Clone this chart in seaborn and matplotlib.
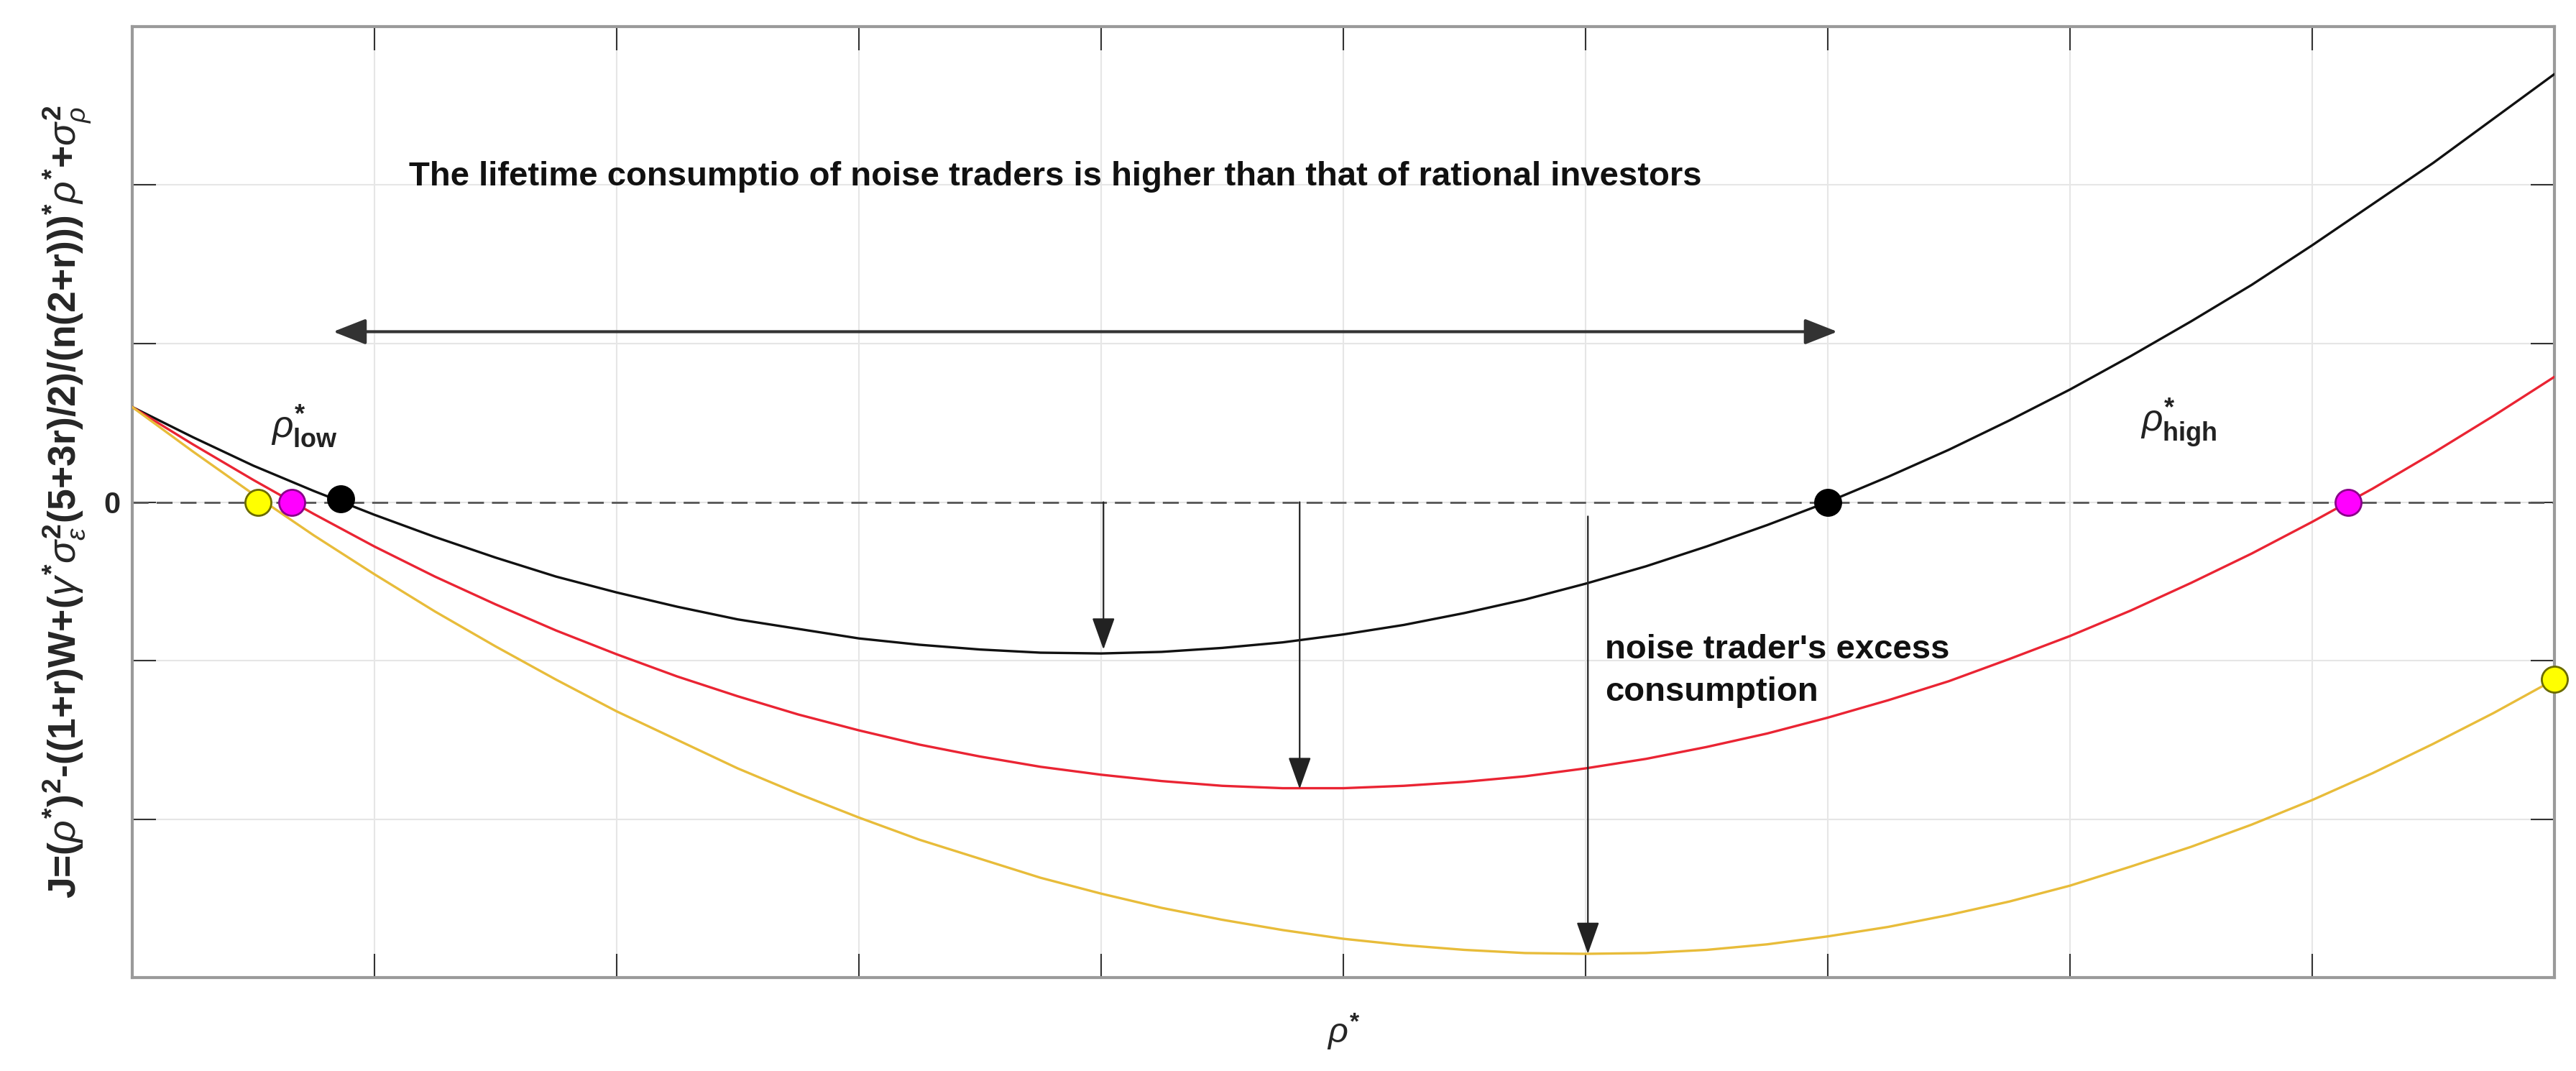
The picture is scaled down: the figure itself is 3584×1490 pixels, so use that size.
import matplotlib
matplotlib.use('Agg')
import matplotlib.pyplot as plt
import seaborn as sns

# curves (x and y in grid units, x 0..10, y -3..3)
curve_x = [0, 0.25, 0.5, 0.75, 1.0, 1.25, 1.5, 1.75, 2.0, 2.25, 2.5, 2.75, 3.0, 3.25, 3.5, 3.75, 4.0,
           4.25, 4.5, 4.75, 5.0, 5.25, 5.5, 5.75, 6.0, 6.25, 6.5, 6.75, 7.0, 7.25, 7.5, 7.75, 8.0,
           8.25, 8.5, 8.75, 9.0, 9.25, 9.5, 9.75, 10]
black_y = [0.60, 0.41, 0.23, 0.07, -0.08, -0.22, -0.35, -0.47, -0.57, -0.66, -0.74, -0.80, -0.86, -0.90,
           -0.93, -0.95, -0.955, -0.945, -0.92, -0.885, -0.835, -0.775, -0.70, -0.615, -0.515, -0.405,
           -0.28, -0.145, 0.0, 0.16, 0.33, 0.515, 0.71, 0.92, 1.14, 1.37, 1.62, 1.88, 2.14, 2.42, 2.70]
red_y = [0.60, 0.365, 0.14, -0.075, -0.28, -0.47, -0.645, -0.81, -0.96, -1.10, -1.225, -1.34, -1.44,
         -1.53, -1.605, -1.67, -1.72, -1.76, -1.79, -1.805, -1.805, -1.79, -1.765, -1.73, -1.68, -1.62,
         -1.545, -1.46, -1.36, -1.25, -1.13, -0.99, -0.845, -0.685, -0.51, -0.325, -0.125, 0.085, 0.31,
         0.545, 0.79]
yellow_y = [0.60, 0.32, 0.05, -0.21, -0.455, -0.69, -0.91, -1.12, -1.32, -1.50, -1.68, -1.84, -1.99,
            -2.13, -2.25, -2.37, -2.47, -2.56, -2.635, -2.70, -2.755, -2.795, -2.825, -2.845, -2.85,
            -2.845, -2.825, -2.79, -2.74, -2.68, -2.605, -2.52, -2.42, -2.30, -2.175, -2.035, -1.88,
            -1.71, -1.525, -1.33, -1.12]

# marked roots / end points
black_pts_x = [0.86, 7.0]
black_pts_y = [0.02, 0.0]
magenta_pts_x = [0.66, 9.15]
magenta_pts_y = [0.0, 0.0]
yellow_pts_x = [0.52, 10.0]
yellow_pts_y = [0.0, -1.12]

# annotation arrows
drop_x = [4.01, 4.82, 6.01]
drop_top = [0.0, 0.0, -0.09]
drop_bottom = [-0.93, -1.81, -2.85]
span_left, span_right, span_y = 0.83, 7.04, 1.075

title_txt = 'The lifetime consumptio of noise traders is higher than that of rational investors'
excess_txt = "noise trader's excess\nconsumption"
ylab = (r'J=($\rho^{*}$)$^{\mathbf{2}}$-((1+r)W+($\gamma^{*}\sigma_{\epsilon}^{\mathbf{2}}$(5+3r)/2)/(n(2+r)))'
        r'$^{*}\rho^{*}$+$\sigma_{\rho}^{\mathbf{2}}$')

sns.set_theme(style='whitegrid')
plt.rcParams['font.family'] = ['Liberation Sans', 'DejaVu Sans']
plt.rcParams['mathtext.fontset'] = 'custom'
plt.rcParams['mathtext.rm'] = 'Liberation Sans:bold'
plt.rcParams['mathtext.it'] = 'Liberation Sans:italic'
plt.rcParams['mathtext.bf'] = 'Liberation Sans:bold'

fig = plt.figure(figsize=(35.84, 14.90), dpi=100)
ax = fig.add_axes([0.0513, 0.0872, 0.9403, 0.8880])
ax.set_facecolor('white')

ax.axhline(0, color='#555555', lw=2, dashes=(8, 4), zorder=2)

sns.lineplot(x=curve_x, y=black_y, ax=ax, color='#111111', lw=2.4, zorder=3)
sns.lineplot(x=curve_x, y=red_y, ax=ax, color='#ea2433', lw=2.4, zorder=3)
sns.lineplot(x=curve_x, y=yellow_y, ax=ax, color='#e8bc3a', lw=2.4, zorder=3)

ax.plot(yellow_pts_x, yellow_pts_y, 'o', ms=26, mfc='#ffff00', mec='#6b6b00', mew=2, clip_on=False, zorder=5)
ax.plot(magenta_pts_x, magenta_pts_y, 'o', ms=26, mfc='#ff00ff', mec='#8a008a', mew=2, clip_on=False, zorder=5)
ax.plot(black_pts_x, black_pts_y, 'o', ms=26, mfc='black', mec='black', mew=2, clip_on=False, zorder=5)

for x, y0, y1 in zip(drop_x, drop_top, drop_bottom):
    ax.annotate('', xy=(x, y1), xytext=(x, y0),
                arrowprops=dict(arrowstyle='-|>,head_length=1.4,head_width=0.5', mutation_scale=20,
                                lw=1.6, color='#222222', shrinkA=0, shrinkB=0), zorder=6)
ax.annotate('', xy=(span_right, span_y), xytext=(span_left, span_y),
            arrowprops=dict(arrowstyle='<|-|>,head_length=1.4,head_width=0.55', mutation_scale=20,
                            lw=3, color='#333333', shrinkA=0, shrinkB=0), zorder=6)

ax.text(3.81, 2.05, title_txt, ha='center', va='center', fontsize=34, fontweight='bold', color='#111111')
ax.text(6.08, -0.83, excess_txt, ha='left', va='top', fontsize=34, fontweight='bold', color='#111111',
        linespacing=1.45)
ax.text(0.71, 0.48, r'$\rho^{*}_{\mathbf{low}}$', ha='center', va='center', fontsize=37, color='#222222')
ax.text(8.45, 0.50, r'$\rho^{*}_{\mathbf{high}}$', ha='center', va='center', fontsize=37, color='#222222')

ax.set_xlim(0, 10)
ax.set_ylim(-3, 3)
ax.set_xticks(range(0, 11))
ax.set_yticks(range(-3, 4))
ax.set_xticklabels([''] * 11)
ax.set_yticklabels(['0' if v == 0 else '' for v in range(-3, 4)], fontsize=30, fontweight='bold')
ax.tick_params(axis='both', direction='in', length=24, width=1.5, color='#333333',
               top=True, right=True, bottom=True, left=True, pad=12)
ax.grid(True, color='#e6e6e6', lw=1.5)
for s in ax.spines.values():
    s.set_visible(True)
    s.set_color('#9a9a9a')
    s.set_linewidth(3)

ax.set_xlabel(r'$\rho^{*}$', fontsize=35, labelpad=22)
ax.set_ylabel(ylab, fontsize=38.5, fontweight='bold', labelpad=10)

fig.savefig('out.png', dpi=100)
